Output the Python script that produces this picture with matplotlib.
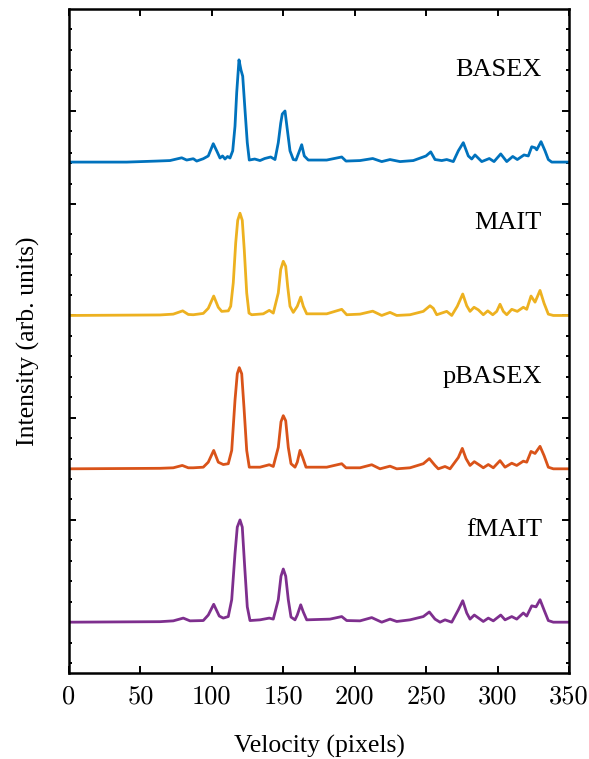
import numpy as np
import matplotlib
matplotlib.use("Agg")
import matplotlib.pyplot as plt
from matplotlib.ticker import FixedLocator, NullFormatter

plt.rcParams['font.family'] = ['Liberation Serif', 'DejaVu Serif']

# velocity (pixels) and normalised intensity
basex_x = [0, 40.4, 61.4, 70.7, 78.9, 82.4, 87.0, 89.4, 94.0, 97.5, 101.0, 103.4, 105.7, 107.5,
           109.2, 111.0, 112.7, 114.6, 116.2, 117.4, 119.0, 120.4, 121.6, 123.2, 124.8, 126.2,
           130.0, 133.7, 137.0, 141.2, 144.2, 146.5, 148.2, 149.3, 151.2, 152.8, 154.7, 157.0,
           158.9, 160.8, 162.9, 164.7, 167.5, 180.4, 190.9, 193.9, 203.7, 212.6, 218.9, 224.7,
           231.7, 241.0, 249.9, 253.2, 256.2, 260.9, 264.4, 269.0, 272.5, 276.0, 279.5, 281.9,
           284.2, 288.9, 294.2, 297.5, 302.2, 306.4, 310.6, 313.8, 318.5, 321.5, 323.9, 326.2,
           327.4, 330.4, 333.2, 335.5, 337.9, 350]
basex_y = [0, 0.0, 0.01, 0.015, 0.042, 0.02, 0.033, 0.01, 0.033, 0.06, 0.18, 0.11, 0.04, 0.06,
           0.03, 0.055, 0.04, 0.11, 0.35, 0.68, 1.0, 0.9, 0.84, 0.51, 0.19, 0.02,
           0.03, 0.015, 0.035, 0.05, 0.025, 0.19, 0.38, 0.47, 0.5, 0.32, 0.11, 0.025,
           0.02, 0.09, 0.17, 0.06, 0.02, 0.02, 0.05, 0.01, 0.015, 0.035, 0.005, 0.025,
           0.005, 0.015, 0.06, 0.1, 0.025, 0.015, 0.025, 0.005, 0.11, 0.19, 0.06, 0.03,
           0.07, 0.005, 0.035, 0.005, 0.08, 0.005, 0.055, 0.025, 0.07, 0.06, 0.15, 0.14,
           0.12, 0.2, 0.11, 0.025, 0.0, 0]

mait_x = [0, 63.7, 73.0, 79.6, 83.5, 87.0, 94.0, 97.5, 101.3, 104.5, 106.9, 111.5, 113.2, 115.0,
          116.7, 118.1, 119.7, 121.3, 122.7, 124.4, 126.0, 127.9, 136.0, 140.2, 143.0, 146.5,
          148.2, 150.0, 151.7, 153.1, 154.7, 157.0, 159.8, 162.2, 164.0, 166.4, 180.4, 190.9,
          194.4, 203.7, 212.6, 218.9, 224.7, 229.4, 238.7, 248.0, 252.7, 255.0, 257.4, 264.4,
          267.9, 271.8, 275.6, 278.4, 280.7, 283.5, 286.5, 290.0, 293.1, 296.6, 299.4, 301.7,
          304.0, 306.4, 309.9, 313.8, 318.0, 320.4, 323.4, 326.2, 329.7, 332.5, 335.5, 339.0, 350]
mait_y = [0, 0.005, 0.013, 0.045, 0.01, 0.007, 0.02, 0.07, 0.19, 0.08, 0.04, 0.045, 0.09, 0.32,
          0.71, 0.93, 1.0, 0.93, 0.64, 0.22, 0.023, 0.007, 0.016, 0.05, 0.023, 0.22,
          0.45, 0.53, 0.48, 0.28, 0.09, 0.03, 0.09, 0.18, 0.09, 0.016, 0.016, 0.06,
          0.007, 0.013, 0.042, 0.0, 0.03, 0.0, 0.007, 0.04, 0.095, 0.07, 0.007, 0.04,
          0.0, 0.09, 0.21, 0.095, 0.04, 0.08, 0.055, 0.007, 0.045, 0.007, 0.04, 0.11,
          0.04, 0.007, 0.06, 0.04, 0.08, 0.06, 0.19, 0.13, 0.245, 0.12, 0.013, 0.0, 0]

pbasex_x = [0, 63.7, 73.0, 79.3, 83.5, 87.0, 94.0, 97.5, 101.3, 104.5, 108.0, 111.5, 113.9, 116.2,
            117.8, 119.2, 120.9, 122.5, 124.4, 126.2, 133.7, 140.2, 143.0, 146.5, 148.4, 150.0,
            151.7, 153.5, 155.4, 158.2, 159.8, 161.7, 163.6, 165.9, 180.4, 190.9, 193.9, 203.7,
            211.9, 217.7, 224.7, 229.4, 238.7, 248.0, 252.2, 256.2, 258.5, 263.2, 266.7, 272.5,
            275.3, 277.9, 280.7, 283.7, 287.7, 290.0, 293.5, 297.0, 301.7, 305.2, 309.9, 313.4,
            318.0, 320.4, 323.4, 326.2, 329.7, 332.5, 335.5, 339.0, 350]
pbasex_y = [0, 0.005, 0.01, 0.033, 0.01, 0.01, 0.016, 0.065, 0.18, 0.065, 0.042, 0.05, 0.18, 0.67,
            0.93, 0.99, 0.93, 0.6, 0.18, 0.016, 0.016, 0.04, 0.023, 0.21, 0.46, 0.52,
            0.47, 0.21, 0.05, 0.016, 0.065, 0.18, 0.11, 0.016, 0.016, 0.05, 0.01, 0.01,
            0.04, 0.0, 0.026, 0.0, 0.01, 0.05, 0.1, 0.033, 0.0, 0.023, 0.0, 0.11,
            0.2, 0.1, 0.033, 0.07, 0.033, 0.01, 0.042, 0.01, 0.08, 0.016, 0.055, 0.033,
            0.075, 0.065, 0.17, 0.15, 0.22, 0.13, 0.016, 0.0, 0]

fmait_x = [0, 63.7, 73.0, 80.0, 84.7, 94.0, 97.5, 101.3, 105.2, 108.0, 111.5, 113.9, 116.2, 117.8,
           119.7, 121.3, 123.0, 124.8, 126.7, 133.7, 140.2, 143.0, 146.5, 148.4, 150.0, 151.7,
           153.5, 155.4, 158.2, 159.8, 162.2, 164.0, 166.4, 182.7, 190.9, 194.4, 203.7, 211.9,
           218.9, 224.7, 229.4, 238.7, 248.0, 252.2, 256.2, 259.7, 263.2, 267.9, 272.5, 275.6,
           278.4, 280.7, 283.7, 290.0, 293.5, 297.0, 302.2, 305.2, 309.9, 313.4, 318.0, 320.4,
           323.9, 326.9, 329.7, 332.5, 335.5, 339.0, 350]
fmait_y = [0, 0.005, 0.013, 0.04, 0.013, 0.016, 0.07, 0.175, 0.06, 0.04, 0.055, 0.22, 0.67, 0.93,
           1.0, 0.93, 0.54, 0.15, 0.016, 0.023, 0.04, 0.03, 0.22, 0.45, 0.52, 0.45,
           0.22, 0.05, 0.023, 0.07, 0.17, 0.1, 0.023, 0.03, 0.055, 0.016, 0.013, 0.045,
           0.0, 0.03, 0.007, 0.023, 0.055, 0.1, 0.03, 0.0, 0.023, 0.0, 0.12, 0.21,
           0.09, 0.03, 0.07, 0.007, 0.04, 0.013, 0.07, 0.023, 0.055, 0.03, 0.09, 0.06,
           0.16, 0.15, 0.22, 0.12, 0.016, 0.0, 0]

names = ["BASEX", "MAIT", "pBASEX", "fMAIT"]
offsets = [4.5, 3.0, 1.5, 0.0]
colors = ["#0072BD", "#EDB120", "#D95319", "#7E2F8E"]
series_x = [basex_x, mait_x, pbasex_x, fmait_x]
series_y = [basex_y, mait_y, pbasex_y, fmait_y]

xticks = [0, 50, 100, 150, 200, 250, 300, 350]
ymajor = [0, 1, 2, 3, 4.09, 5]
yminor = [-0.4, -0.2, 0.2, 0.4, 0.6, 0.8, 1.2, 1.4, 1.6, 1.8, 2.2, 2.4, 2.6, 2.8,
          3.2, 3.4, 3.6, 3.8, 4.29, 4.49, 4.59, 4.8, 5.2, 5.4, 5.6, 5.8]

fig = plt.figure(figsize=(5.89, 7.59), dpi=100)
ax = fig.add_axes([0.1171, 0.1129, 0.849, 0.8756])

for xs, ys, off, c, name in zip(series_x, series_y, offsets, colors, names):
    ax.plot(xs, np.array(ys) + off, color=c, lw=2.0, solid_joinstyle='round')
    ax.text(331, off + 0.9, name, ha='right', va='center', fontsize=19)

ax.set_xlim(0, 350)
ax.set_ylim(-0.5, 6.0)
ax.set_xticks(xticks)
ax.set_xticklabels([str(v) for v in xticks], fontfamily='cmr10', fontsize=19)
ax.yaxis.set_major_locator(FixedLocator(ymajor))
ax.yaxis.set_minor_locator(FixedLocator(yminor))
ax.yaxis.set_major_formatter(NullFormatter())

ax.tick_params(which='both', direction='in', top=True, right=True, width=1.4)
ax.tick_params(which='major', length=5)
ax.tick_params(which='minor', length=2.5)
ax.tick_params(axis='x', pad=8)
for s in ax.spines.values():
    s.set_linewidth(1.8)

ax.set_xlabel("Velocity (pixels)", fontsize=18.5)
ax.set_ylabel("Intensity (arb. units)", fontsize=18.5)
ax.xaxis.set_label_coords(0.5, -0.093)
ax.yaxis.set_label_coords(-0.058, 0.5)

fig.savefig("out.png", dpi=100)
